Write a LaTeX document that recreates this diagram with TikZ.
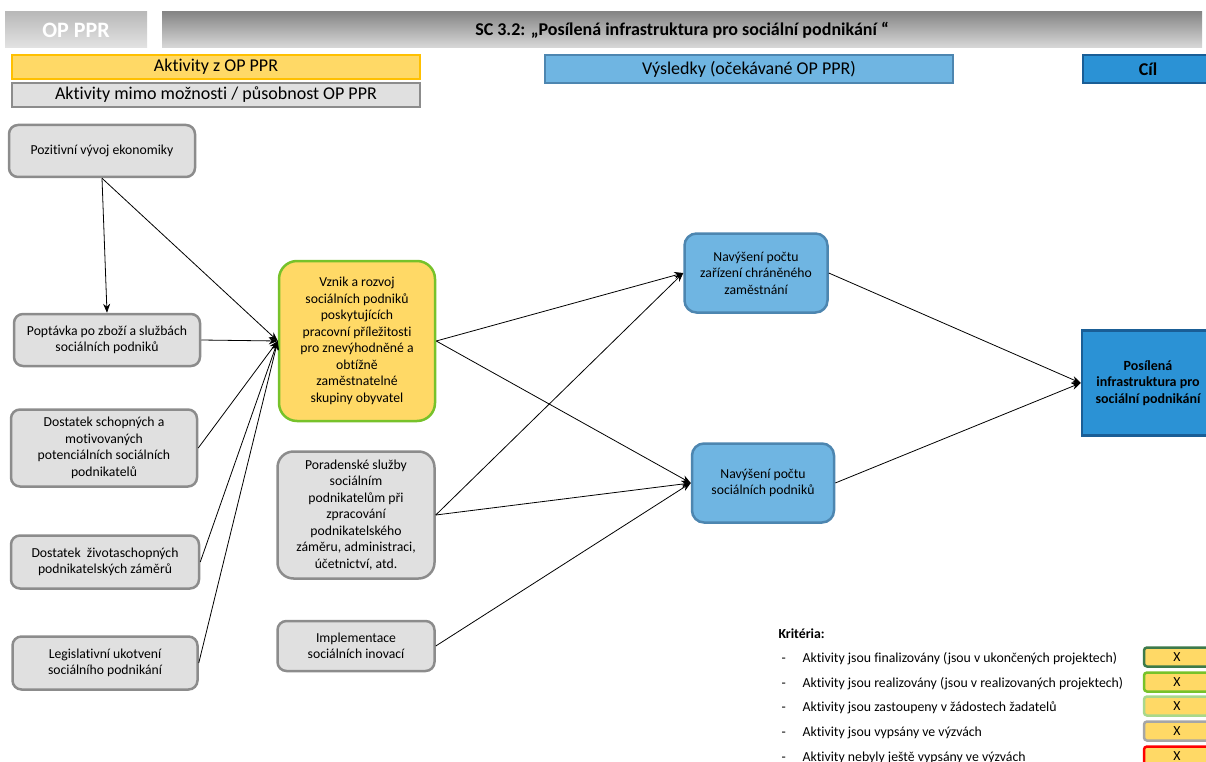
\documentclass[tikz,border=0pt]{standalone}
\usepackage{fontspec}
\setmainfont{Carlito}[Ligatures=NoCommon]
\usetikzlibrary{arrows.meta,positioning}
\definecolor{boxGray}{HTML}{E0E0E0}
\definecolor{edgeGray}{HTML}{8C8C8C}
\definecolor{actYellow}{HTML}{FFD966}
\definecolor{actOrange}{HTML}{FFC000}
\definecolor{actGreen}{HTML}{77C22A}
\definecolor{resBlue}{HTML}{6FB5E2}
\definecolor{resEdge}{HTML}{4D86B0}
\definecolor{goalBlue}{HTML}{2B92D5}
\definecolor{goalEdge}{HTML}{1A5E96}
\definecolor{darkGreen}{HTML}{3D7A4A}
\definecolor{paleGreen}{HTML}{A9D88C}
\definecolor{critGray}{HTML}{A6A6A6}
\definecolor{critRed}{HTML}{FF0000}

\begin{document}
\begin{tikzpicture}[x=1pt,y=-1pt,>={Stealth[length=9pt,width=7pt]},
  grayBox/.style={draw=edgeGray,fill=boxGray,line width=2.5pt,rounded corners=9pt,align=center,inner sep=2pt,font=\fontsize{13.7}{16.5}\selectfont},
  resBox/.style={draw=resEdge,fill=resBlue,line width=2.5pt,rounded corners=12pt,align=center,inner sep=2pt,font=\fontsize{13.7}{16.5}\selectfont},
  legBox/.style={line width=2.5pt,minimum width=408pt,align=center,inner sep=1pt,font=\fontsize{18}{20}\selectfont},
  critBox/.style={fill=actYellow,line width=2.5pt,rounded corners=3pt,minimum width=66pt,minimum height=19pt,inner sep=1pt,font=\fontsize{13.8}{15}\selectfont},
  critText/.style={anchor=base west,font=\fontsize{13.8}{15}\selectfont},
  link/.style={->,line width=0.8pt}]
  \clip (0,0) rectangle (1206,762);

  % header
  \node[top color=gray!55,bottom color=gray!22,minimum width=142pt,minimum height=36pt,inner sep=1pt,text=white,font=\fontsize{22}{24}\selectfont\bfseries] (hdrOp) at (76,30) {OP PPR};
  \node[top color=gray!95,bottom color=gray!30,minimum width=1040pt,minimum height=36pt,inner sep=1pt,font=\fontsize{18}{20}\selectfont\bfseries] (hdrSc) at (682,30)
    {SC 3.2: „Posílená infrastruktura pro sociální podnikání “};
  \node[legBox,draw=actOrange,fill=actYellow,minimum height=24pt] (legAct) at (216,67) {Aktivity z OP PPR};
  \node[legBox,draw=edgeGray,fill=boxGray,minimum height=24pt] (legOut) at (216,95) {Aktivity mimo možnosti / působnost OP PPR};
  \node[legBox,draw=resEdge,fill=resBlue,minimum height=28pt] (legRes) at (749,69) {Výsledky (očekávané OP PPR)};
  \node[legBox,draw=goalEdge,fill=goalBlue,minimum width=130pt,minimum height=28pt,font=\fontsize{18}{20}\selectfont\bfseries] (legGoal) at (1148,69) {Cíl};

  % left column
  \node[grayBox,minimum width=186pt,minimum height=52pt] (econ) at (102,151) {Pozitivní vývoj ekonomiky};
  \node[grayBox,minimum width=186pt,minimum height=52pt] (demand) at (107,340) {Poptávka po zboží a službách\\sociálních podniků};
  \node[grayBox,minimum width=186pt,minimum height=77pt] (able) at (104,448) {Dostatek schopných a\\motivovaných\\potenciálních sociálních\\podnikatelů};
  \node[grayBox,minimum width=188pt,minimum height=53pt] (plans) at (105,562) {Dostatek\ \ životaschopných\\podnikatelských záměrů};
  \node[grayBox,minimum width=185pt,minimum height=53pt] (law) at (105,663) {Legislativní ukotvení\\sociálního podnikání};

  % middle column
  \node[grayBox,draw=actGreen,fill=actYellow,rounded corners=18pt,minimum width=156pt,minimum height=160pt] (rise) at (357,341)
    {Vznik a rozvoj\\sociálních podniků\\poskytujících\\pracovní příležitosti\\pro znevýhodněné a\\obtížně\\zaměstnatelné\\skupiny obyvatel};
  \node[grayBox,rounded corners=16pt,minimum width=157pt,minimum height=127pt] (advice) at (356,515)
    {Poradenské služby\\sociálním\\podnikatelům při\\zpracování\\podnikatelského\\záměru, administraci,\\účetnictví, atd.};
  \node[grayBox,minimum width=157pt,minimum height=50pt] (innov) at (356,646) {Implementace\\sociálních inovací};

  % results and goal
  \node[resBox,minimum width=143pt,minimum height=79pt] (sheltered) at (756,273) {Navýšení počtu\\zařízení chráněného\\zaměstnání};
  \node[resBox,minimum width=142pt,minimum height=79pt] (firms) at (763,483) {Navýšení počtu\\sociálních podniků};
  \node[draw=goalEdge,fill=goalBlue,line width=2.5pt,minimum width=132pt,minimum height=105pt,align=center,inner sep=1pt,font=\fontsize{14}{16.5}\selectfont\bfseries] (goal) at (1148,383)
    {Posílená\\infrastruktura pro\\sociální podnikání};

  % connectors
  \draw[link] (econ.south) -- (demand.north);
  \draw[link] (econ.south) -- (rise.west);
  \draw[link] (demand.east) -- (rise.west);
  \draw[link] (able.east) -- (rise.west);
  \draw[link] (plans.east) -- (rise.west);
  \draw[link] (law.east) -- (rise.west);
  \draw[link] (rise.east) -- (sheltered.west);
  \draw[link] (rise.east) -- (firms.west);
  \draw[link] (advice.east) -- (sheltered.west);
  \draw[link] (advice.east) -- (firms.west);
  \draw[link] (innov.east) -- (firms.west);
  \draw[link] (sheltered.east) -- (goal.west);
  \draw[link] (firms.east) -- (goal.west);

  % criteria
  \node[critText,font=\fontsize{13.8}{15}\selectfont\bfseries] (critHead) at (775,638) {Kritéria:};
  \node[critText] (dash1) at (778,662) {-};
  \node[critText] (crit1) at (799,662) {Aktivity jsou finalizovány (jsou v ukončených projektech)};
  \node[critBox,draw=darkGreen] (mark1) at (1177,657) {X};
  \node[critText] (dash2) at (778,687) {-};
  \node[critText] (crit2) at (799,687) {Aktivity jsou realizovány (jsou v realizovaných projektech)};
  \node[critBox,draw=actGreen] (mark2) at (1177,682) {X};
  \node[critText] (dash3) at (778,711) {-};
  \node[critText] (crit3) at (799,711) {Aktivity jsou zastoupeny v žádostech žadatelů};
  \node[critBox,draw=paleGreen] (mark3) at (1177,706) {X};
  \node[critText] (dash4) at (778,736) {-};
  \node[critText] (crit4) at (799,736) {Aktivity jsou vypsány ve výzvách};
  \node[critBox,draw=critGray] (mark4) at (1177,731) {X};
  \node[critText] (dash5) at (778,761) {-};
  \node[critText] (crit5) at (799,761) {Aktivity nebyly ještě vypsány ve výzvách};
  \node[critBox,draw=critRed] (mark5) at (1177,756) {X};
\end{tikzpicture}
\end{document}
